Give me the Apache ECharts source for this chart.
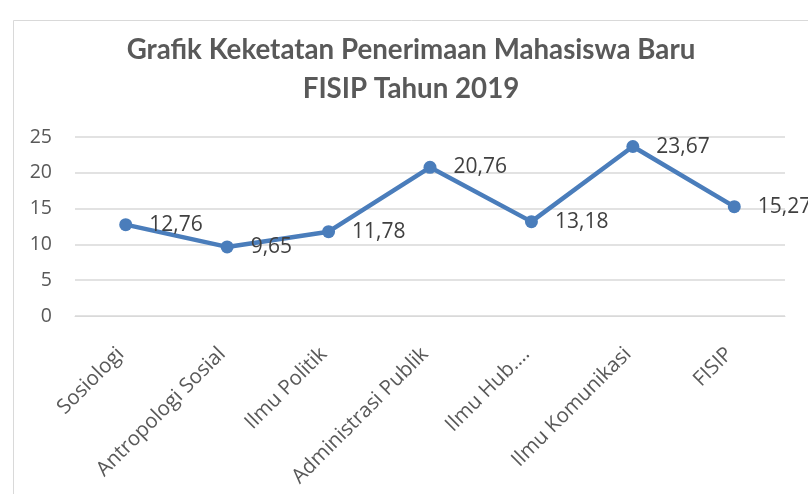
<!DOCTYPE html>
<html><head><meta charset="utf-8">
<script src="https://cdn.jsdelivr.net/npm/echarts@6/dist/echarts.min.js"></script>
<style>html,body{margin:0;padding:0;background:#fff}#c{width:808px;height:494px}</style>
</head><body><div id="c"></div>
<script>
const categories = ["Sosiologi", "Antropologi Sosial", "Ilmu Politik", "Administrasi Publik", "Ilmu Hub.…", "Ilmu Komunikasi", "FISIP"];
const values = [12.76, 9.65, 11.78, 20.76, 13.18, 23.67, 15.27];
const yTicks = [0, 5, 10, 15, 20, 25];
const titleLines = ["Grafik Keketatan Penerimaan Mahasiswa Baru", "FISIP Tahun 2019"];

const chart = echarts.init(document.getElementById('c'));
const fmt = v => String(v.toFixed(2)).replace('.', ',');
chart.setOption({
  animation: false,
  backgroundColor: '#fff',
  graphic: [{
    type: 'rect', left: 11, top: 18,
    shape: { width: 820, height: 500 },
    style: { fill: 'none', stroke: '#d9d9d9', lineWidth: 1 }
  }],
  title: {
    text: titleLines.join('\n'),
    left: 406, top: 26, textAlign: 'center',
    textStyle: { fontFamily: 'Lato', fontWeight: 'bold', fontSize: 27.7, color: '#595959', lineHeight: 39 }
  },
  grid: { left: 75, right: 23, top: 137, bottom: 178 },
  xAxis: {
    type: 'category', data: categories, boundaryGap: true,
    axisLine: { show: true, lineStyle: { color: '#d9d9d9', width: 1 } },
    axisTick: { show: false },
    axisLabel: { rotate: 45, margin: 30, padding: [0, 7, 0, 0], interval: 0, fontFamily: 'Open Sans', fontSize: 20.5, color: '#595959' }
  },
  yAxis: {
    type: 'value', min: yTicks[0], max: yTicks[yTicks.length - 1], interval: 5,
    axisLine: { show: false }, axisTick: { show: false },
    splitLine: { lineStyle: { color: '#d9d9d9', width: 1.5 } },
    axisLabel: { margin: 23, fontFamily: 'Open Sans', fontSize: 19.5, color: '#595959' }
  },
  series: [{
    type: 'line', data: values,
    symbol: 'circle', symbolSize: 13,
    lineStyle: { color: '#4a7dbb', width: 4.5 },
    itemStyle: { color: '#4a7dbb' },
    label: {
      show: true, position: 'right', distance: 17,
      formatter: p => fmt(p.value),
      fontFamily: 'Open Sans', fontSize: 21, color: '#404040'
    }
  }]
});
</script></body></html>
